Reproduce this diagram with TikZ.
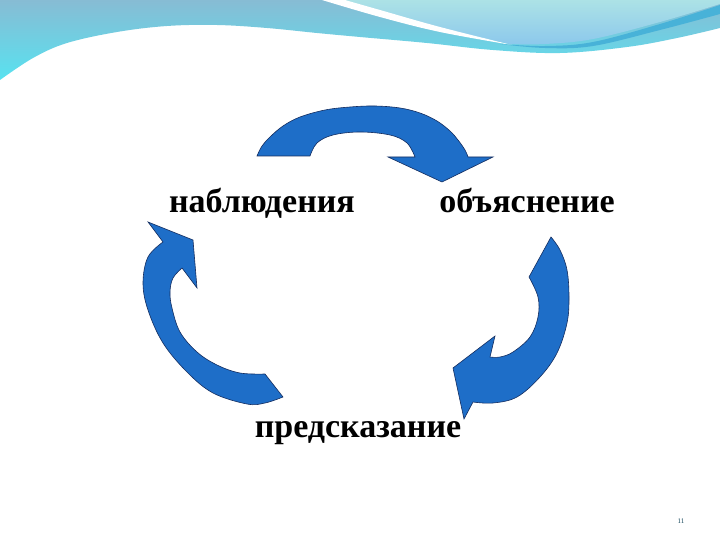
\documentclass[tikz,border=0pt]{standalone}
\usepackage{fontspec}
\setmainfont{Liberation Serif}
\definecolor{arrowblue}{RGB}{30,110,200}
\definecolor{arrowline}{RGB}{20,45,95}
\definecolor{bandtop}{RGB}{135,188,212}
\definecolor{bandbot}{RGB}{88,226,240}
\definecolor{bubtop}{RGB}{172,226,230}
\definecolor{bubbot}{RGB}{140,200,236}
\definecolor{stripe}{RGB}{72,178,216}
\definecolor{pagenum}{RGB}{20,70,90}
\tikzset{
  cyclearrow/.style={fill=arrowblue, draw=arrowline, line width=0.6pt, line join=miter},
  lbl/.style={font=\fontsize{34}{40}\selectfont\bfseries, inner sep=0pt, anchor=base},
}
\begin{document}
\begin{tikzpicture}[x=1pt,y=-1pt]
\useasboundingbox (0,0) rectangle (720,540);
\fill[white] (0,0) rectangle (720,540);
% top band
\shade[top color=bandtop, bottom color=bandbot]
  (0,0) -- (0,80) -- plot[smooth, tension=0.6] coordinates {(0,80) (33,58) (67,43) (117,32) (167,26) (217,25) (267,28) (317,33) (360,37) (427,43) (493,50) (560,53) (627,47) (677,38) (720,28)} -- (720,0) -- cycle;
% light bubble
\shade[top color=bubtop, bottom color=bubbot]
  (325,0) -- plot[smooth, tension=0.6] coordinates {(325,0) (380,14) (440,28) (510,44)}
  -- plot[smooth, tension=0.6] coordinates {(510,44) (545,44) (593,39) (660,22) (720,4)} -- (720,0) -- cycle;
% white streak
\fill[white] (322,0) -- plot[smooth, tension=0.6] coordinates {(322,0) (380,17) (440,32) (512,45)}
  -- plot[smooth, tension=0.6] coordinates {(512,45) (440,27) (380,10) (345,0)} -- cycle;
% blue stripe
\fill[stripe] (500,44) -- plot[smooth, tension=0.6] coordinates {(500,44) (545,46) (593,42) (660,24) (720,5)}
  -- (720,14) -- plot[smooth, tension=0.6] coordinates {(720,14) (660,30) (593,46) (545,48) (500,44)} -- cycle;

% top arrow
\draw[cyclearrow] (257,156) -- plot[smooth, tension=0.6] coordinates {(257,156) (262,146) (270,137) (283,126) (300,117) (325,110) (350,107) (375,106) (400,108) (420,113) (437,121) (450,131) (458,140) (465,150) (468,157)}
  -- (493,157) -- (442,182) -- (388,157) -- (415,157)
  -- plot[smooth, tension=0.6] coordinates {(415,157) (407,143) (390,135) (360,132) (333,135) (317,143) (310,156)} -- cycle;

% left arrow
\draw[cyclearrow] (148,222) -- (193,240) -- (197,288) -- (182,268)
  -- plot[smooth, tension=0.6] coordinates {(182,268) (173,278) (170,292) (172,308) (180,332) (197,352) (217,365) (240,373) (265,374)}
  -- (283,397)
  -- plot[smooth, tension=0.6] coordinates {(283,397) (265,403) (247,404) (213,393) (187,372) (163,343) (148,310) (143,283) (148,257) (163,242)}
  -- cycle;

% right arrow
\draw[cyclearrow] (551,237)
  -- plot[smooth, tension=0.6] coordinates {(551,237) (560,250) (567,270) (569,297) (567,323) (557,353) (540,377) (517,397) (493,403) (473,402)}
  -- (464,419) -- (453,368) -- (495,336) -- (490,357)
  -- plot[smooth, tension=0.6] coordinates {(490,357) (500,357) (513,352) (530,337) (538,317) (538,297) (529,277)}
  -- cycle;

% labels
\node[lbl] (obs) at (262,212) {наблюдения};
\node[lbl] (expl) at (527,212) {объяснение};
\node[lbl] (pred) at (358,437) {предсказание};
\node[font=\fontsize{7}{8}\selectfont, text=pagenum, inner sep=0pt] (pnum) at (681,521) {11};
\end{tikzpicture}
\end{document}
